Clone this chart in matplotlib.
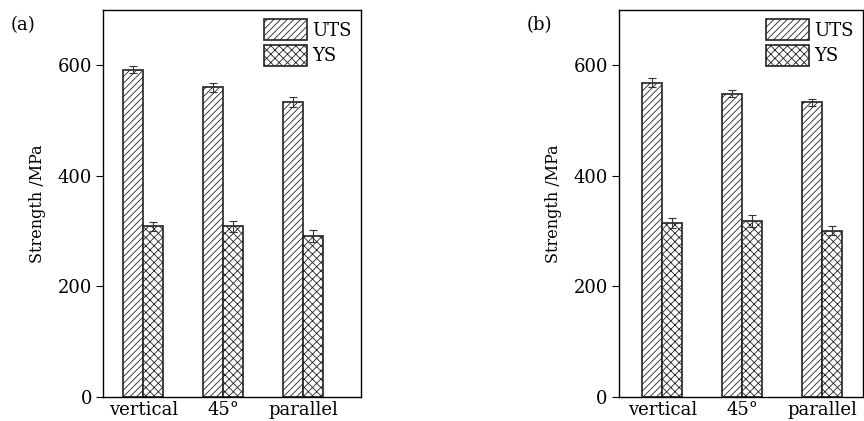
import numpy as np
import matplotlib
matplotlib.use("Agg")
import matplotlib.pyplot as plt

plt.rcParams['font.family'] = ['DejaVu Serif']
plt.rcParams['hatch.linewidth'] = 0.6
plt.rcParams['hatch.color'] = '#555555'

categories = ["vertical", "45°", "parallel"]

uts_a = [592, 560, 533]
uts_a_err = [6, 8, 9]
ys_a = [309, 309, 291]
ys_a_err = [8, 10, 11]

uts_b = [569, 549, 533]
uts_b_err = [8, 6, 7]
ys_b = [315, 319, 301]
ys_b_err = [9, 11, 8]

panels = [
    ("(a)", uts_a, uts_a_err, ys_a, ys_a_err, [0.1192, 0.057, 0.2986, 0.919], (-0.506, 2.72)),
    ("(b)", uts_b, uts_b_err, ys_b, ys_b_err, [0.7164, 0.057, 0.2824, 0.919], (-0.544, 2.506)),
]

fig = plt.figure(figsize=(8.64, 4.21), dpi=100)

for label, uts, uts_err, ys, ys_err, rect, xl in panels:
    ax = fig.add_axes(rect)
    x = np.arange(len(categories))
    w = 0.25
    ax.bar(x - w / 2, uts, w, yerr=uts_err, label="UTS", color="white",
           edgecolor="#222222", linewidth=1.2, hatch="/////",
           error_kw=dict(ecolor="#333333", elinewidth=0.8, capsize=3, capthick=0.8))
    ax.bar(x + w / 2, ys, w, yerr=ys_err, label="YS", color="white",
           edgecolor="#222222", linewidth=1.2, hatch="xxxx",
           error_kw=dict(ecolor="#333333", elinewidth=0.8, capsize=3, capthick=0.8))
    ax.set_xlim(*xl)
    ax.set_ylim(0, 700)
    ax.set_yticks([0, 200, 400, 600])
    ax.set_xticks(x)
    ax.set_xticklabels(categories, fontsize=13)
    ax.tick_params(axis="x", length=0, pad=3)
    ax.tick_params(axis="y", direction="out", length=5, labelsize=13, pad=3)
    for s in ax.spines.values():
        s.set_linewidth(1.0)
    ax.set_ylabel("Strength /MPa", fontsize=11.5, labelpad=8)
    ax.legend(loc="upper right", frameon=False, fontsize=13, handlelength=2.4,
              handleheight=1.42, handletextpad=0.3, labelspacing=0.25,
              borderaxespad=0.3, borderpad=0.2)
    fig.text(rect[0] - 0.107, 0.94, label, fontsize=13, ha="left", va="center")

plt.savefig("out.png", dpi=100)
